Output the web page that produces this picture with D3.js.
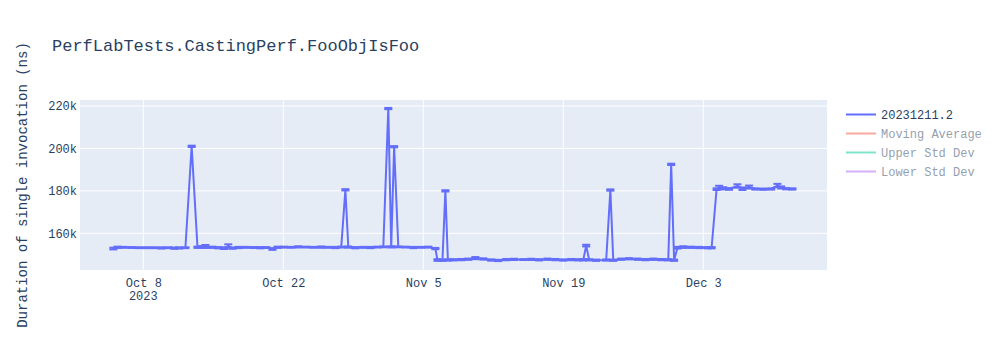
<!DOCTYPE html>
<html>
<head>
<meta charset="utf-8">
<script src="https://cdn.jsdelivr.net/npm/d3@7"></script>
<style>
  body { margin: 0; background: #fff; }
  svg { display: block; }
  text { font-family: "Liberation Mono", "Courier New", monospace; fill: #2a3f5f; }
</style>
</head>
<body>
<script>
// Chart size and plot area
const w = 1000;
const h = 350;
const plot = { left: 80, right: 827, top: 100, bottom: 270 };

// Series data
const runDates = [
	"2023-10-05T00", "2023-10-05T10", "2023-10-06T00", "2023-10-06T19", "2023-10-07T12",
	"2023-10-08T07", "2023-10-09T00", "2023-10-09T19", "2023-10-10T12", "2023-10-11T02",
	"2023-10-11T14", "2023-10-12T05", "2023-10-12T20", "2023-10-13T10", "2023-10-13T22",
	"2023-10-14T05", "2023-10-14T22", "2023-10-15T12", "2023-10-16T02", "2023-10-16T12",
	"2023-10-16T22", "2023-10-17T12", "2023-10-18T05", "2023-10-19T00", "2023-10-19T17",
	"2023-10-20T07", "2023-10-20T22", "2023-10-21T10", "2023-10-22T02", "2023-10-22T19",
	"2023-10-23T12", "2023-10-24T07", "2023-10-25T00", "2023-10-25T19", "2023-10-26T12",
	"2023-10-27T05", "2023-10-27T19", "2023-10-28T05", "2023-10-28T12", "2023-10-29T05",
	"2023-10-30T00", "2023-10-30T17", "2023-10-31T10", "2023-11-01T00", "2023-11-01T12",
	"2023-11-01T19", "2023-11-02T02", "2023-11-02T12", "2023-11-03T05", "2023-11-04T00",
	"2023-11-04T19", "2023-11-05T12", "2023-11-06T05", "2023-11-06T10", "2023-11-06T22",
	"2023-11-07T05", "2023-11-07T11", "2023-11-08T00", "2023-11-08T19", "2023-11-09T12",
	"2023-11-10T05", "2023-11-11T00", "2023-11-11T19", "2023-11-12T12", "2023-11-13T07",
	"2023-11-14T02", "2023-11-15T00", "2023-11-15T19", "2023-11-16T14", "2023-11-17T10",
	"2023-11-18T05", "2023-11-19T00", "2023-11-19T19", "2023-11-20T12", "2023-11-21T00",
	"2023-11-21T07", "2023-11-21T14", "2023-11-22T07", "2023-11-23T07", "2023-11-23T17",
	"2023-11-24T00", "2023-11-24T19", "2023-11-25T14", "2023-11-26T10", "2023-11-27T05",
	"2023-11-28T00", "2023-11-28T19", "2023-11-29T12", "2023-11-29T19", "2023-11-30T02",
	"2023-11-30T10", "2023-12-01T00", "2023-12-01T19", "2023-12-02T14", "2023-12-03T10",
	"2023-12-03T20", "2023-12-04T08", "2023-12-04T14", "2023-12-05T00", "2023-12-05T14",
	"2023-12-06T10", "2023-12-06T22", "2023-12-07T14", "2023-12-08T05", "2023-12-09T00",
	"2023-12-09T19", "2023-12-10T10", "2023-12-10T19", "2023-12-11T07", "2023-12-11T22"
];

// Duration in ns (thousands)
const durations = [
	152.8, 153.4, 153.4, 153.3, 153.2,
	153.2, 153.2, 153.1, 153.2, 153.0,
	153.1, 153.2, 201.0, 153.4, 153.6,
	153.8, 153.4, 153.2, 153.0, 154.0,
	153.0, 153.3, 153.4, 153.3, 153.2,
	153.3, 152.6, 153.4, 153.5, 153.4,
	153.6, 153.5, 153.4, 153.5, 153.4,
	153.3, 153.5, 180.5, 153.5, 153.2,
	153.4, 153.3, 153.5, 153.6, 218.8,
	153.6, 200.8, 153.6, 153.5, 153.3,
	153.4, 153.5, 152.8, 147.4, 147.3,
	180.0, 147.4, 147.5, 147.6, 147.8,
	148.3, 147.9, 147.4, 147.2, 147.6,
	147.7, 147.6, 147.7, 147.5, 147.8,
	147.6, 147.4, 147.6, 147.5, 147.5,
	154.2, 147.5, 147.3, 147.4, 180.4,
	147.3, 147.8, 148.0, 147.8, 147.6,
	147.8, 147.6, 147.5, 192.5, 147.3,
	153.2, 153.5, 153.4, 153.3, 153.2,
	153.2, 180.8, 181.6, 181.2, 180.9,
	182.3, 181.0, 181.8, 180.9, 180.8,
	180.9, 182.5, 181.6, 181.0, 180.9
];

// Error bar half-widths (thousands)
const errors = [
	0.4, 0.3, 0.2, 0.2, 0.2,
	0.2, 0.2, 0.3, 0.2, 0.3,
	0.3, 0.2, 0.3, 0.3, 0.4,
	0.7, 0.3, 0.3, 0.4, 0.8,
	0.3, 0.3, 0.2, 0.2, 0.3,
	0.2, 0.4, 0.3, 0.2, 0.2,
	0.3, 0.2, 0.2, 0.3, 0.2,
	0.3, 0.2, 0.3, 0.3, 0.3,
	0.2, 0.3, 0.2, 0.2, 0.3,
	0.3, 0.3, 0.2, 0.2, 0.3,
	0.2, 0.2, 0.3, 0.4, 0.3,
	0.3, 0.3, 0.3, 0.3, 0.3,
	0.5, 0.3, 0.3, 0.3, 0.3,
	0.3, 0.2, 0.3, 0.3, 0.3,
	0.3, 0.3, 0.3, 0.3, 0.3,
	0.4, 0.3, 0.3, 0.3, 0.3,
	0.3, 0.3, 0.3, 0.3, 0.3,
	0.3, 0.3, 0.3, 0.3, 0.3,
	0.4, 0.4, 0.3, 0.3, 0.3,
	0.3, 0.4, 0.8, 0.5, 0.4,
	0.8, 0.6, 0.7, 0.3, 0.3,
	0.3, 0.8, 0.5, 0.3, 0.3
];

const yTicks = [160000, 180000, 200000, 220000];
const xTicks = ["2023-10-08", "2023-10-22", "2023-11-05", "2023-11-19", "2023-12-03"];
const legendNames = ["20231211.2", "Moving Average", "Upper Std Dev", "Lower Std Dev"];
const legendColors = ["#636efa", "#EF553B", "#00cc96", "#ab63fa"];

const parseDate = d3.utcParse("%Y-%m-%dT%H");
const parseDay = d3.utcParse("%Y-%m-%d");
const data = runDates.map((d, i) => ({
	date: parseDate(d),
	value: durations[i] * 1000,
	err: errors[i] * 1000
}));

// Create svg
const svg = d3.select("body").append("svg").attr("width", w).attr("height", h);

// Scales
const xScale = d3
	.scaleUtc()
	.domain([new Date(Date.UTC(2023, 9, 1, 16)), new Date(Date.UTC(2023, 11, 15, 9))])
	.range([plot.left, plot.right]);

const yScale = d3
	.scaleLinear()
	.domain([142700, 222830])
	.range([plot.bottom, plot.top]);

// Plot background
svg
	.append("rect")
	.attr("x", plot.left)
	.attr("y", plot.top)
	.attr("width", plot.right - plot.left)
	.attr("height", plot.bottom - plot.top)
	.attr("fill", "#e5ecf6");

// Gridlines
svg
	.append("g")
	.selectAll("line")
	.data(xTicks)
	.enter()
	.append("line")
	.attr("x1", (d) => xScale(parseDay(d)))
	.attr("x2", (d) => xScale(parseDay(d)))
	.attr("y1", plot.top)
	.attr("y2", plot.bottom)
	.attr("stroke", "#fff")
	.attr("stroke-width", 1);

svg
	.append("g")
	.selectAll("line")
	.data(yTicks)
	.enter()
	.append("line")
	.attr("x1", plot.left)
	.attr("x2", plot.right)
	.attr("y1", (d) => yScale(d))
	.attr("y2", (d) => yScale(d))
	.attr("stroke", "#fff")
	.attr("stroke-width", 1);

// x-axis labels
const xAxis = d3
	.axisBottom(xScale)
	.tickValues(xTicks.map(parseDay))
	.tickSize(0)
	.tickPadding(8)
	.tickFormat(d3.utcFormat("%b %-d"));
const gx = svg
	.append("g")
	.attr("transform", `translate(0, ${plot.bottom})`)
	.call(xAxis);
gx.select(".domain").remove();
gx.selectAll("text").style("font-size", "12px").attr("fill", "#2a3f5f");

svg
	.append("text")
	.attr("x", xScale(parseDay(xTicks[0])))
	.attr("y", 300)
	.attr("text-anchor", "middle")
	.style("font-size", "12px")
	.text("2023");

// y-axis labels
const yAxis = d3
	.axisLeft(yScale)
	.tickValues(yTicks)
	.tickSize(0)
	.tickPadding(3)
	.tickFormat((d) => `${d / 1000}k`);
const gy = svg
	.append("g")
	.attr("transform", `translate(${plot.left}, 0)`)
	.call(yAxis);
gy.select(".domain").remove();
gy.selectAll("text").style("font-size", "12px").attr("fill", "#2a3f5f");

// Clip to plot area
svg
	.append("clipPath")
	.attr("id", "clip")
	.append("rect")
	.attr("x", plot.left)
	.attr("y", plot.top)
	.attr("width", plot.right - plot.left)
	.attr("height", plot.bottom - plot.top);

const layer = svg.append("g").attr("clip-path", "url(#clip)");

// Error bars
const bars = layer
	.selectAll(".err")
	.data(data)
	.enter()
	.append("g")
	.attr("class", "err")
	.attr("stroke", "#636efa")
	.attr("stroke-width", 2);

bars
	.append("line")
	.attr("x1", (d) => xScale(d.date))
	.attr("x2", (d) => xScale(d.date))
	.attr("y1", (d) => yScale(d.value - d.err))
	.attr("y2", (d) => yScale(d.value + d.err));

bars
	.append("line")
	.attr("x1", (d) => xScale(d.date) - 4)
	.attr("x2", (d) => xScale(d.date) + 4)
	.attr("y1", (d) => yScale(d.value + d.err))
	.attr("y2", (d) => yScale(d.value + d.err));

bars
	.append("line")
	.attr("x1", (d) => xScale(d.date) - 4)
	.attr("x2", (d) => xScale(d.date) + 4)
	.attr("y1", (d) => yScale(d.value - d.err))
	.attr("y2", (d) => yScale(d.value - d.err));

// Line
const line = d3
	.line()
	.x((d) => xScale(d.date))
	.y((d) => yScale(d.value));

layer
	.append("path")
	.datum(data)
	.attr("d", line)
	.attr("fill", "none")
	.attr("stroke", "#636efa")
	.attr("stroke-width", 2)
	.attr("stroke-linejoin", "round");

// Title
svg
	.append("text")
	.attr("x", 52)
	.attr("y", 51)
	.style("font-size", "17px")
	.text("PerfLabTests.CastingPerf.FooObjIsFoo");

// y-axis title
svg
	.append("text")
	.attr("transform", `translate(27, ${(plot.top + plot.bottom) / 2}) rotate(-90)`)
	.attr("text-anchor", "middle")
	.style("font-size", "14px")
	.text("Duration of single invocation (ns)");

// Legend
const legend = svg
	.append("g")
	.selectAll("g")
	.data(legendNames)
	.enter()
	.append("g")
	.attr("transform", (d, i) => `translate(846, ${114.5 + i * 19})`)
	.attr("opacity", (d, i) => (i === 0 ? 1 : 0.5));

legend
	.append("line")
	.attr("x1", 0)
	.attr("x2", 30)
	.attr("stroke", (d, i) => legendColors[i])
	.attr("stroke-width", 2);

legend
	.append("text")
	.attr("x", 35)
	.attr("y", 4)
	.style("font-size", "12px")
	.text((d) => d);
</script>
</body>
</html>
